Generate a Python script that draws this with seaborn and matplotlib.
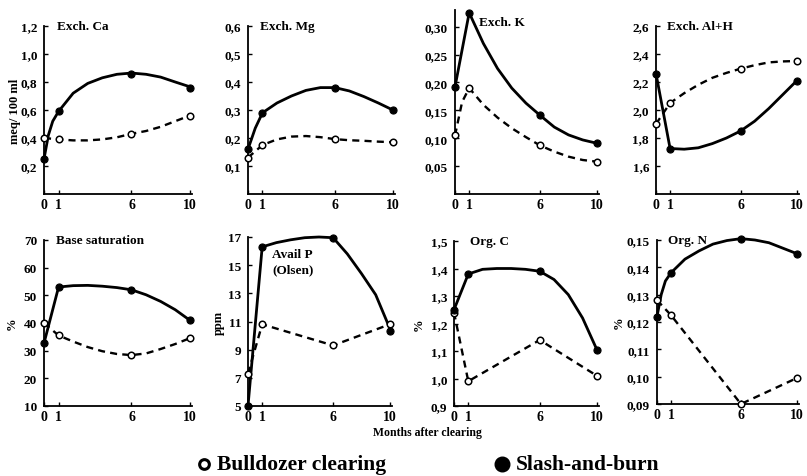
import matplotlib
matplotlib.use("Agg")
import matplotlib.pyplot as plt
import seaborn as sns
from matplotlib.lines import Line2D

# ---------------- data ----------------
months = [0, 1, 6, 10]
xtick_labels = ["0", "1", "6", "10"]

# Exch. Ca (meq/100 ml)
ca_slash = [0.25, 0.59, 0.86, 0.76]
ca_bull = [0.40, 0.39, 0.43, 0.56]
ca_slash_curve_m = [0, 0.3, 0.6, 1, 2, 3, 4, 5, 6, 7, 8, 9, 10]
ca_slash_curve_v = [0.25, 0.42, 0.52, 0.59, 0.72, 0.79, 0.83, 0.855, 0.864, 0.855, 0.835, 0.80, 0.766]
ca_bull_curve_m = [0, 1, 2, 3, 4, 5, 6, 7, 8, 9, 10]
ca_bull_curve_v = [0.40, 0.39, 0.383, 0.383, 0.39, 0.405, 0.43, 0.45, 0.48, 0.52, 0.56]

# Exch. Mg
mg_slash = [0.16, 0.29, 0.38, 0.30]
mg_bull = [0.13, 0.175, 0.196, 0.185]
mg_slash_curve_m = [0, 0.5, 1, 2, 3, 4, 5, 6, 7, 8, 9, 10]
mg_slash_curve_v = [0.16, 0.235, 0.29, 0.325, 0.35, 0.37, 0.38, 0.38, 0.368, 0.348, 0.325, 0.30]
mg_bull_curve_m = [0, 1, 2, 3, 4, 5, 6, 7, 8, 9, 10]
mg_bull_curve_v = [0.13, 0.175, 0.195, 0.205, 0.207, 0.203, 0.196, 0.192, 0.19, 0.187, 0.185]

# Exch. K
k_slash = [0.192, 0.325, 0.141, 0.091]
k_bull = [0.105, 0.19, 0.087, 0.058]
k_slash_curve_m = [0, 1, 2, 3, 4, 5, 6, 7, 8, 9, 10]
k_slash_curve_v = [0.192, 0.325, 0.27, 0.225, 0.19, 0.163, 0.141, 0.12, 0.106, 0.097, 0.091]
k_bull_curve_m = [0, 0.5, 1, 2, 3, 4, 5, 6, 7, 8, 9, 10]
k_bull_curve_v = [0.105, 0.165, 0.19, 0.16, 0.137, 0.118, 0.102, 0.087, 0.076, 0.067, 0.061, 0.058]

# Exch. Al+H
al_slash = [2.26, 1.725, 1.85, 2.21]
al_bull = [1.90, 2.05, 2.295, 2.35]
al_slash_curve_m = [0, 1, 2, 3, 4, 5, 6, 7, 8, 9, 10]
al_slash_curve_v = [2.26, 1.725, 1.72, 1.73, 1.76, 1.80, 1.85, 1.92, 2.01, 2.11, 2.21]
al_bull_curve_m = [0, 1, 2, 3, 4, 5, 6, 7, 8, 9, 10]
al_bull_curve_v = [1.90, 2.05, 2.12, 2.18, 2.23, 2.265, 2.295, 2.32, 2.34, 2.347, 2.35]

# Base saturation (%)
bs_slash = [32.7, 53.0, 52.0, 41.0]
bs_bull = [40.0, 35.5, 28.4, 34.5]
bs_slash_curve_m = [0, 1, 2, 3, 4, 5, 6, 7, 8, 9, 10]
bs_slash_curve_v = [32.7, 53.0, 53.5, 53.6, 53.3, 52.8, 52.0, 50.2, 47.8, 44.8, 41.0]
bs_bull_curve_m = [0, 1, 2, 3, 4, 5, 6, 7, 8, 9, 10]
bs_bull_curve_v = [40.0, 35.5, 33.3, 31.3, 29.8, 28.8, 28.4, 29.0, 30.6, 32.4, 34.5]

# Avail P (Olsen), ppm
p_slash = [5.0, 16.3, 16.95, 10.3]
p_bull = [7.3, 10.8, 9.3, 10.8]
p_slash_curve_m = [0, 1, 2, 3, 4, 5, 6, 7, 8, 9, 10]
p_slash_curve_v = [5.0, 16.3, 16.6, 16.8, 16.95, 17.0, 16.95, 15.8, 14.4, 12.9, 10.5]
p_bull_curve_m = months
p_bull_curve_v = p_bull

# Org. C (%)
c_slash = [1.25, 1.38, 1.39, 1.105]
c_bull = [1.24, 0.99, 1.14, 1.01]
c_slash_curve_m = [0, 1, 2, 3, 4, 5, 6, 7, 8, 9, 10]
c_slash_curve_v = [1.25, 1.38, 1.397, 1.40, 1.40, 1.397, 1.39, 1.36, 1.305, 1.22, 1.105]
c_bull_curve_m = months
c_bull_curve_v = c_bull

# Org. N (%)
n_slash = [0.122, 0.138, 0.1505, 0.145]
n_bull = [0.128, 0.1225, 0.090, 0.0995]
n_slash_curve_m = [0, 0.3, 0.6, 1, 2, 3, 4, 5, 6, 7, 8, 9, 10]
n_slash_curve_v = [0.122, 0.13, 0.135, 0.138, 0.143, 0.146, 0.1485, 0.1498, 0.1505, 0.150, 0.149, 0.147, 0.145]
n_bull_curve_m = months
n_bull_curve_v = n_bull

# y ticks and labels
ca_ticks = [0.2, 0.4, 0.6, 0.8, 1.0, 1.2]
ca_labels = ["0,2", "0,4", "0,6", "0,8", "1,0", "1,2"]
mg_ticks = [0.1, 0.2, 0.3, 0.4, 0.5, 0.6]
mg_labels = ["0,1", "0,2", "0,3", "0,4", "0,5", "0,6"]
k_ticks = [0.05, 0.10, 0.15, 0.20, 0.25, 0.30]
k_labels = ["0,05", "0,10", "0,15", "0,20", "0,25", "0,30"]
al_ticks = [1.6, 1.8, 2.0, 2.2, 2.4, 2.6]
al_labels = ["1,6", "1,8", "2,0", "2,2", "2,4", "2,6"]
bs_ticks = [10, 20, 30, 40, 50, 60, 70]
bs_labels = ["10", "20", "30", "40", "50", "60", "70"]
p_ticks = [5, 7, 9, 11, 13, 15, 17]
p_labels = ["5", "7", "9", "11", "13", "15", "17"]
c_ticks = [0.9, 1.0, 1.1, 1.2, 1.3, 1.4, 1.5]
c_labels = ["0,9", "1,0", "1,1", "1,2", "1,3", "1,4", "1,5"]
n_ticks = [0.09, 0.10, 0.11, 0.12, 0.13, 0.14, 0.15]
n_labels = ["0,09", "0,10", "0,11", "0,12", "0,13", "0,14", "0,15"]

titles = ["Exch. Ca", "Exch. Mg", "Exch. K", "Exch. Al+H",
          "Base saturation", "Avail P\n(Olsen)", "Org. C", "Org. N"]
ylabels = ["meq/ 100 ml", "", "", "", "%", "ppm", "%", "%"]
legend_labels = ["Bulldozer clearing", "Slash-and-burn"]
xlabel = "Months after clearing"

# ---------------- style ----------------
sns.set_theme(style="ticks")
plt.rcParams["font.family"] = ["Liberation Serif", "DejaVu Serif"]
plt.rcParams["font.weight"] = "bold"

W, H = 807, 477
fig = plt.figure(figsize=(W / 100, H / 100), dpi=100)
fig.patch.set_facecolor("white")

def box(left, right, top, bottom):
    return [left / W, 1 - bottom / H, (right - left) / W, (bottom - top) / H]

panels = [
    dict(pos=box(44, 192, 27, 195), ylim=(0, 1.2), ticks=ca_ticks, labels=ca_labels,
         s=(ca_slash, ca_slash_curve_m, ca_slash_curve_v), b=(ca_bull, ca_bull_curve_m, ca_bull_curve_v),
         tpos=(0.09, 1.0), tha="left"),
    dict(pos=box(248, 395, 27, 195), ylim=(0, 0.6), ticks=mg_ticks, labels=mg_labels,
         s=(mg_slash, mg_slash_curve_m, mg_slash_curve_v), b=(mg_bull, mg_bull_curve_m, mg_bull_curve_v),
         tpos=(0.08, 1.0), tha="left"),
    dict(pos=box(455, 599, 11, 195), ylim=(0, 0.33), ticks=k_ticks, labels=k_labels,
         s=(k_slash, k_slash_curve_m, k_slash_curve_v), b=(k_bull, k_bull_curve_m, k_bull_curve_v),
         tpos=(0.17, 0.935), tha="left"),
    dict(pos=box(656, 799, 27, 195), ylim=(1.4, 2.6), ticks=al_ticks, labels=al_labels,
         s=(al_slash, al_slash_curve_m, al_slash_curve_v), b=(al_bull, al_bull_curve_m, al_bull_curve_v),
         tpos=(0.08, 1.0), tha="left"),
    dict(pos=box(44, 192, 241, 407), ylim=(10, 70), ticks=bs_ticks, labels=bs_labels,
         s=(bs_slash, bs_slash_curve_m, bs_slash_curve_v), b=(bs_bull, bs_bull_curve_m, bs_bull_curve_v),
         tpos=(0.08, 1.0), tha="left"),
    dict(pos=box(248, 392, 238, 407), ylim=(5, 17), ticks=p_ticks, labels=p_labels,
         s=(p_slash, p_slash_curve_m, p_slash_curve_v), b=(p_bull, p_bull_curve_m, p_bull_curve_v),
         tpos=(0.31, 0.855), tha="center"),
    dict(pos=box(454, 599, 242, 407), ylim=(0.9, 1.5), ticks=c_ticks, labels=c_labels,
         s=(c_slash, c_slash_curve_m, c_slash_curve_v), b=(c_bull, c_bull_curve_m, c_bull_curve_v),
         tpos=(0.11, 1.0), tha="left"),
    dict(pos=box(657, 799, 241, 405), ylim=(0.09, 0.15), ticks=n_ticks, labels=n_labels,
         s=(n_slash, n_slash_curve_m, n_slash_curve_v), b=(n_bull, n_bull_curve_m, n_bull_curve_v),
         tpos=(0.08, 1.0), tha="left"),
]

ylabel_x = {0: -0.155, 4: -0.175, 5: -0.16, 6: -0.2, 7: -0.23}

for i, p in enumerate(panels):
    ax = fig.add_axes(p["pos"])
    ax.set_facecolor("white")
    s_pts, s_m, s_v = p["s"]
    b_pts, b_m, b_v = p["b"]
    sns.lineplot(x=b_m, y=b_v, ax=ax, color="black", lw=1.7, sort=False,
                 estimator=None, linestyle=(0, (3.0, 2.2)), clip_on=False)
    sns.lineplot(x=s_m, y=s_v, ax=ax, color="black", lw=2.0, sort=False,
                 estimator=None, clip_on=False)
    sns.scatterplot(x=months, y=b_pts, ax=ax, color="white", edgecolor="black",
                    s=22, linewidth=1.1, zorder=4, clip_on=False)
    sns.scatterplot(x=months, y=s_pts, ax=ax, color="black", edgecolor="black",
                    s=26, linewidth=0.8, zorder=5, clip_on=False)
    ax.set_xlim(0, 10.15)
    ax.set_ylim(*p["ylim"])
    ax.set_xticks(months)
    ax.set_xticklabels(xtick_labels, fontsize=10, fontweight="bold")
    ax.set_yticks(p["ticks"])
    ax.set_yticklabels(p["labels"], fontsize=9.5, fontweight="bold")
    ax.tick_params(axis="both", direction="in", length=3, width=1.0, color="black",
                   labelcolor="black")
    ax.tick_params(axis="y", pad=5)
    ax.tick_params(axis="x", pad=3)
    for side in ("top", "right"):
        ax.spines[side].set_visible(False)
    for side in ("left", "bottom"):
        ax.spines[side].set_color("black")
        ax.spines[side].set_linewidth(1.3)
    ax.set_xlabel("")
    ax.set_ylabel("")
    if ylabels[i]:
        ax.set_ylabel(ylabels[i], fontsize=9, fontweight="bold", color="black")
        ax.yaxis.set_label_coords(ylabel_x[i], 0.5)
    ax.text(p["tpos"][0], p["tpos"][1], titles[i], transform=ax.transAxes,
            ha=p["tha"], va="center", fontsize=9.5, fontweight="bold",
            color="black", linespacing=1.3)

fig.text(427 / W, 1 - 433 / H, xlabel, ha="center", va="center",
         fontsize=8.5, fontweight="bold", color="black")

# legend drawn as two separate entries at the bottom
leg_y = 1 - 465 / H
fig.add_artist(Line2D([204 / W], [leg_y], transform=fig.transFigure, linestyle="none",
                      marker="o", markersize=7, markerfacecolor="white",
                      markeredgecolor="black", markeredgewidth=2.2))
fig.text(217 / W, leg_y, legend_labels[0], ha="left", va="center",
         fontsize=15.5, fontweight="bold", color="black")
fig.add_artist(Line2D([502 / W], [leg_y], transform=fig.transFigure, linestyle="none",
                      marker="o", markersize=10.5, markerfacecolor="black",
                      markeredgecolor="black"))
fig.text(516 / W, leg_y, legend_labels[1], ha="left", va="center",
         fontsize=15.5, fontweight="bold", color="black")

fig.savefig("out.png", dpi=100, facecolor="white")
